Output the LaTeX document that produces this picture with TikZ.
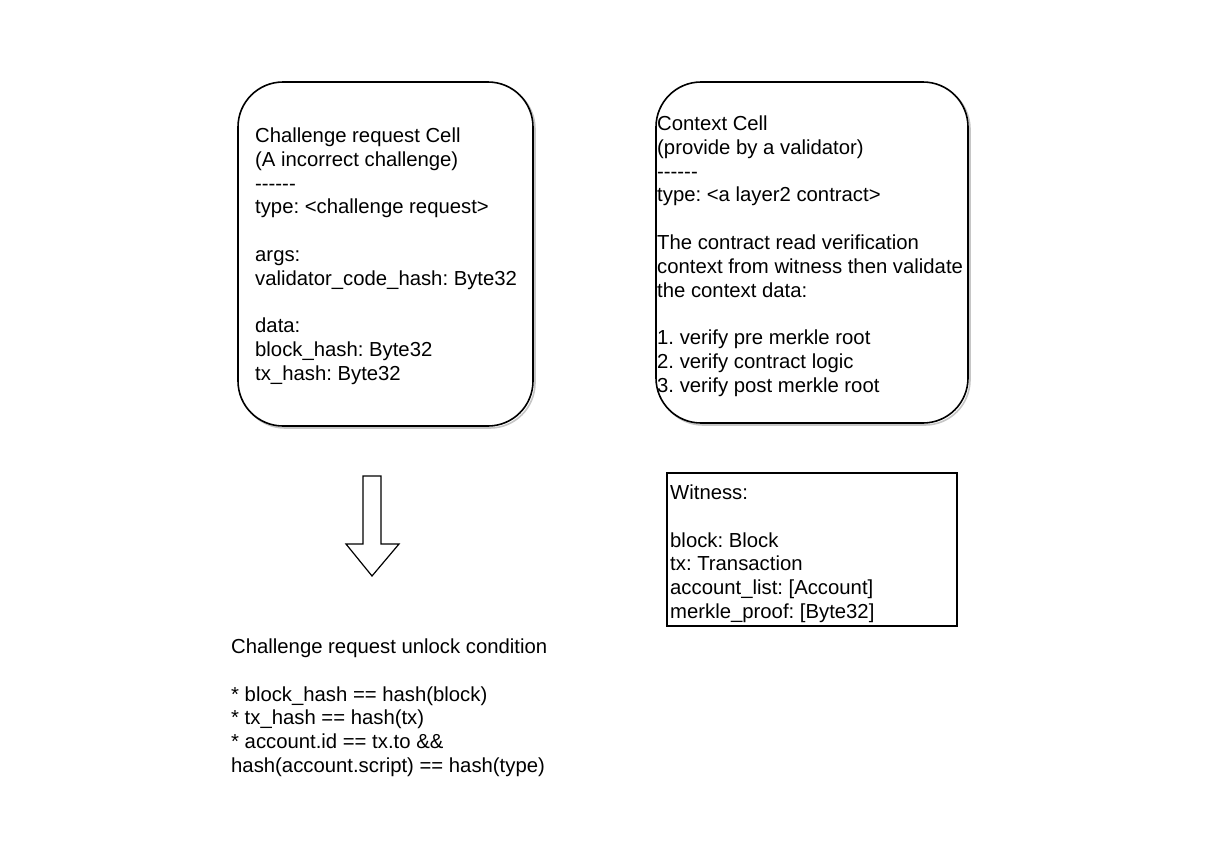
\documentclass[tikz,border=0pt]{standalone}
\usepackage{fontspec}
\setmainfont{Liberation Sans}
\usetikzlibrary{calc,shapes}
\frenchspacing

\begin{document}
\begin{tikzpicture}[x=1pt,y=-1pt,
				txt/.style={anchor=north west,inner sep=0,align=left,font=\fontsize{20.3}{23.8}\selectfont},
				cell/.style={draw,line width=1.6pt,rounded corners=45pt},
				shade/.style={draw=gray!45,line width=1.6pt,rounded corners=45pt}]
				\useasboundingbox (0,0) rectangle (1220,846);
				% Cellules
				\draw [shade] (240,84) rectangle (535,428);
				\draw [cell,fill=white] (238,82) rectangle (533,426);
				\draw [shade] (658,84) rectangle (970,425);
				\draw [cell,fill=white] (656,82) rectangle (968,423);
				\node (req) [txt] at (255,127.5) {Challenge request Cell\\(A incorrect challenge)\\-{}-{}-{}-{}-{}-\\type: <challenge request>\\[23.8pt]args:\\validator\_code\_hash: Byte32\\[23.8pt]data:\\block\_hash: Byte32\\tx\_hash: Byte32};
				\node (ctx) [txt] at (657,115.5) {Context Cell\\(provide by a validator)\\-{}-{}-{}-{}-{}-\\type: <a layer2 contract>\\[23.8pt]The contract read verification\\context from witness then validate\\the context data:\\[23.8pt]1. verify pre merkle root\\2. verify contract logic\\3. verify post merkle root};
				% Witness
				\draw [line width=1.6pt] (667,473) rectangle (957,626);
				\node (wit) [txt] at (670,484.5) {Witness:\\[23.8pt]block: Block\\tx: Transaction\\account\_list: [Account]\\merkle\_proof: [Byte32]};
				% Flèche
				\draw [line width=1.2pt,line join=miter] (363,476) -- (381,476) -- (381,544) -- (399,544) -- (372,576) -- (346,544) -- (363,544) -- cycle;
				% Condition
				\node (cond) [txt] at (231,638.5) {Challenge request unlock condition\\[23.8pt]* block\_hash == hash(block)\\* tx\_hash == hash(tx)\\* account.id == tx.to \&\&\\hash(account.script) == hash(type)};
\end{tikzpicture}
\end{document}
